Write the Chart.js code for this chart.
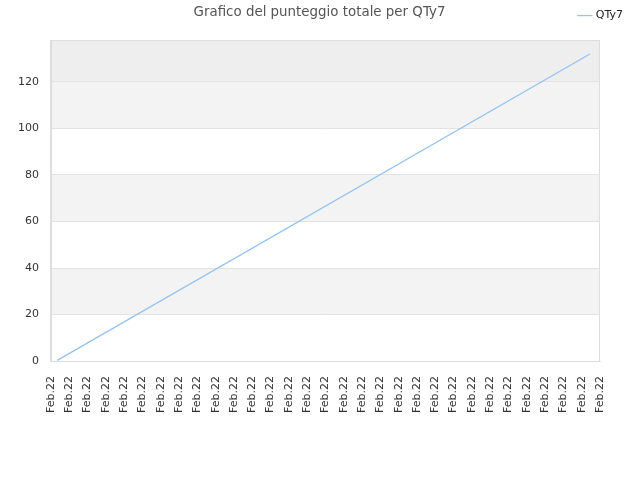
<!DOCTYPE html>
<html>
<head>
<meta charset="utf-8">
<script src="https://cdn.jsdelivr.net/npm/chart.js@4"></script>
<style>
  body { margin: 0; background: #fff; }
  #wrap { width: 640px; height: 480px; }
</style>
</head>
<body>
<div id="wrap"><canvas id="grafico" width="640" height="480"></canvas></div>
<script>
// tick labels along the bottom (one per slot)
const xLabels = [
  "Feb.22", "Feb.22", "Feb.22", "Feb.22", "Feb.22", "Feb.22", "Feb.22", "Feb.22",
  "Feb.22", "Feb.22", "Feb.22", "Feb.22", "Feb.22", "Feb.22", "Feb.22", "Feb.22",
  "Feb.22", "Feb.22", "Feb.22", "Feb.22", "Feb.22", "Feb.22", "Feb.22", "Feb.22",
  "Feb.22", "Feb.22", "Feb.22", "Feb.22", "Feb.22", "Feb.22", "Feb.22"
];
// line points (x in label slots, y = total score)
const puntiX = [0.34, 29.45];
const puntiY = [0.3, 132];
const yTicks = [0, 20, 40, 60, 80, 100, 120];

// alternating bands + frame behind the plot
const bande = {
  id: "bande",
  beforeDraw(chart) {
    const { ctx, chartArea: a, scales: { y } } = chart;
    ctx.save();
    for (let i = 0; i < yTicks.length; i++) {
      const lo = yTicks[i];
      const hi = i + 1 < yTicks.length ? yTicks[i + 1] : y.max;
      let col = null;
      if (i === yTicks.length - 1) col = "#eeeeee";
      else if (i % 2 === 1) col = "#f3f3f3";
      if (!col) continue;
      const top = y.getPixelForValue(hi);
      const bot = y.getPixelForValue(lo);
      ctx.fillStyle = col;
      ctx.fillRect(a.left, top, a.right - a.left, bot - top);
    }
    ctx.strokeStyle = "#dddddd";
    ctx.lineWidth = 1;
    ctx.strokeRect(a.left + 0.5, a.top + 0.5, a.right - a.left - 1, a.bottom - a.top);
    ctx.restore();
  }
};

Chart.defaults.font.family = "'DejaVu Sans', sans-serif";

// empty strips used only as spacing around the plot
const spacer = (pos, size) => ({
  position: pos,
  grid: { display: false, drawTicks: false },
  border: { display: false },
  ticks: { display: false },
  afterFit: (s) => { if (s.isHorizontal()) s.height = size; else s.width = size; },
});

new Chart(document.getElementById("grafico"), {
  type: "line",
  data: {
    datasets: [
      {
        label: "QTy7",
        data: puntiX.map((x, i) => ({ x: x, y: puntiY[i] })),
        borderColor: "#94c3f2",
        backgroundColor: "#94c3f2",
        borderWidth: 1.3,
        pointRadius: 0,
        fill: false,
        tension: 0,
      },
    ]
  },
  options: {
    responsive: false,
    animation: false,
    devicePixelRatio: 1,
    layout: { padding: { left: 6, right: 7, top: 0, bottom: 52 } },
    plugins: {
      title: {
        display: true,
        text: "Grafico del punteggio totale per QTy7",
        color: "#555555",
        font: { size: 13.4, weight: "normal" },
        padding: { top: 4, bottom: -20 },
      },
      legend: {
        position: "top",
        align: "end",
        labels: {
          usePointStyle: true,
          pointStyle: "line",
          boxWidth: 12,
          color: "#222222",
          font: { size: 11 },
          padding: 10,
        },
      },
      tooltip: { enabled: false },
    },
    scales: {
      x: {
        type: "linear",
        min: 0,
        max: xLabels.length - 1,
        grid: { display: false, drawTicks: false },
        border: { color: "#dddddd" },
        ticks: {
          stepSize: 1,
          autoSkip: false,
          minRotation: 90,
          maxRotation: 90,
          padding: 15,
          color: "#333333",
          font: { size: 11 },
          callback: (v) => xLabels[v],
        },
      },
      y: {
        min: 0,
        max: 138,
        grid: { color: "#e2e2e2", drawTicks: false },
        border: { color: "#dddddd" },
        afterBuildTicks: (s) => { s.ticks = yTicks.map((v) => ({ value: v })); },
        ticks: {
          padding: 12,
          color: "#333333",
          font: { size: 11 },
        },
      },
      spazioDx: Object.assign({ axis: "y" }, spacer("right", 33)),
      spazioSu: Object.assign({ axis: "x" }, spacer("top", 9)),
    },
  },
  plugins: [bande],
});
</script>
</body>
</html>
